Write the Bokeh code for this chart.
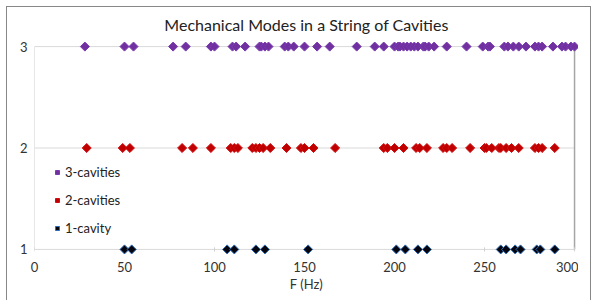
import math
from bokeh.plotting import figure
from bokeh.models import Range1d, FixedTicker, Legend, LegendItem
from bokeh.embed import file_html
from bokeh.resources import INLINE

# ---- data (frequencies in Hz) ----
one_cavity = [50, 54, 107, 111, 123, 128, 152, 201, 206, 213, 218, 259, 262,
              267, 270, 279, 281, 289]
two_cavities = [29, 49, 53, 82, 88, 98, 109, 111, 113, 121, 123, 125, 127, 131,
                140, 148, 150, 155, 167, 194, 196, 200, 205, 212, 214, 218, 227,
                229, 232, 242, 250, 251, 254, 258, 259, 262, 265, 269, 278, 280,
                282, 289]
three_cavities = [28, 50, 55, 77, 84, 98, 100, 110, 112, 117, 125, 126, 128, 130,
                  139, 141, 144, 150, 157, 164, 179, 189, 194, 200, 202, 203, 205,
                  207, 209, 211, 213, 216, 217, 219, 222, 229, 240, 249, 252, 253,
                  261, 263, 266, 269, 273, 278, 280, 282, 288, 293, 295, 298, 300]
levels = [1, 2, 3]
x_ticks = [0, 50, 100, 150, 200, 250, 300]
x_min, x_max = 0, 300
series_names = ["1-cavity", "2-cavities", "3-cavities"]

FONT = "Lato"

border_css = """
:host { position: relative; }
:host::after {
  content: "";
  position: absolute;
  left: 6px; top: 6px;
  width: 585px; height: 294px;
  border: 1.5px solid #878787;
  border-bottom: none;
  box-sizing: border-box;
  pointer-events: none;
}
"""

p = figure(frame_width=544, frame_height=215, output_backend="svg", toolbar_location=None,
           x_range=Range1d(0, 302.2), y_range=Range1d(0.94, 3.06),
           min_border_left=34, min_border_right=0, min_border_top=40,
           min_border_bottom=32, title="Mechanical Modes in a String of Cavities",
           stylesheets=[border_css])
p.outline_line_color = None
p.xgrid.visible = False
p.ygrid.visible = False

p.title.text_font = FONT
p.title.text_font_size = "16px"
p.title.text_font_style = "normal"
p.title.text_color = "#222222"
p.title.align = "center"
p.title.standoff = 14

for ax in (p.xaxis[0], p.yaxis[0]):
    ax.axis_line_color = None
    ax.major_tick_line_color = None
    ax.minor_tick_line_color = None
    ax.major_tick_out = 0
    ax.major_tick_in = 0
    ax.minor_tick_out = 0
    ax.major_label_text_font = FONT
    ax.major_label_text_font_size = "13px"
    ax.major_label_text_color = "#333333"

p.xaxis.ticker = FixedTicker(ticks=x_ticks)
p.yaxis.ticker = FixedTicker(ticks=levels)
p.xaxis.major_label_standoff = 6
p.yaxis.major_label_standoff = 7
p.xaxis.axis_label = "F (Hz)"
p.xaxis.axis_label_text_font = FONT
p.xaxis.axis_label_text_font_size = "13px"
p.xaxis.axis_label_text_font_style = "normal"
p.xaxis.axis_label_text_color = "#333333"
p.xaxis.axis_label_standoff = 1

# gridlines at each level
p.segment(x0=[x_min] * 3, x1=[x_max] * 3, y0=levels, y1=levels,
          line_color="#d9d9d9", line_width=1)
# left axis line and right border line
p.segment(x0=[x_min], x1=[x_min], y0=[levels[0]], y1=[levels[-1]],
          line_color="#cfcfcf", line_width=1)
p.segment(x0=[x_max], x1=[x_max], y0=[levels[0]], y1=[levels[-1]],
          line_color="#a6a6a6", line_width=1.5)
# small tick marks on x axis
p.segment(x0=x_ticks, x1=x_ticks, y0=[levels[0] - 0.02] * len(x_ticks),
          y1=[levels[0] + 0.02] * len(x_ticks), line_color="#cfcfcf", line_width=1)

ang = math.pi / 4
r1 = p.scatter(one_cavity, [1] * len(one_cavity), marker="square", angle=ang,
               size=6.4, fill_color="#050510", line_color="#2f6db5", line_width=1)
r2 = p.scatter(two_cavities, [2] * len(two_cavities), marker="square", angle=ang,
               size=6.4, fill_color="#c00000", line_color="#d01010", line_width=1)
r3 = p.scatter(three_cavities, [3] * len(three_cavities), marker="square", angle=ang,
               size=6.4, fill_color="#7030a0", line_color="#7a3bb0", line_width=1)

legend = Legend(items=[LegendItem(label=series_names[2], renderers=[r3]),
                       LegendItem(label=series_names[1], renderers=[r2]),
                       LegendItem(label=series_names[0], renderers=[r1])],
                location=(18, 17), orientation="vertical")
legend.background_fill_alpha = 0
legend.border_line_color = None
legend.label_text_font = FONT
legend.label_text_font_size = "13px"
legend.label_text_color = "#222222"
legend.glyph_width = 10
legend.label_standoff = 3
legend.spacing = 8
legend.padding = 4
p.add_layout(legend, "center")

open("out.html", "w").write(file_html(p, INLINE))
